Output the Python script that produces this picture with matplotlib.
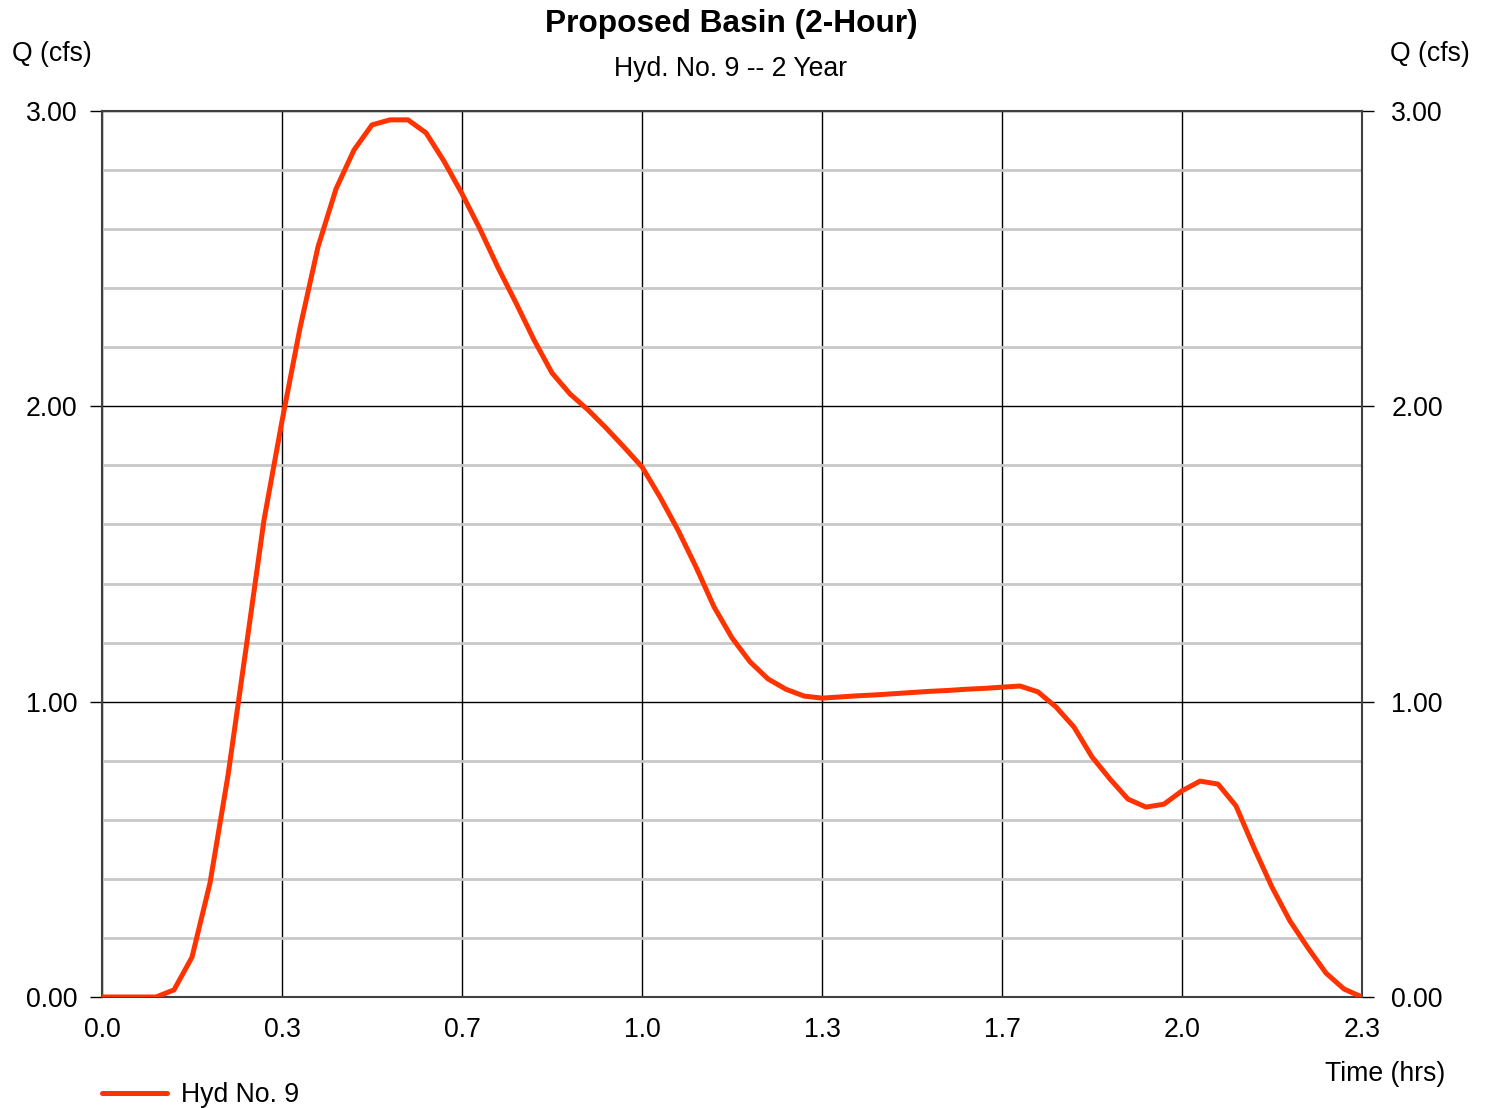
import numpy as np
import matplotlib
matplotlib.use("Agg")
import matplotlib.pyplot as plt
from matplotlib.ticker import MultipleLocator, FixedLocator
from matplotlib.transforms import ScaledTranslation

plt.rcParams['font.family'] = ['Liberation Sans', 'DejaVu Sans']

# hydrograph ordinates, 2-minute time step
minutes = np.arange(0, 142, 2)
flow_cfs = [
    0.000, 0.000, 0.000, 0.000, 0.024, 0.135, 0.386, 0.750, 1.180, 1.615,
    1.950, 2.265, 2.540, 2.736, 2.868, 2.953, 2.970, 2.970, 2.926, 2.830,
    2.720, 2.600, 2.470, 2.350, 2.225, 2.113, 2.042, 1.988, 1.927, 1.862,
    1.795, 1.693, 1.581, 1.456, 1.321, 1.216, 1.135, 1.077, 1.042, 1.019,
    1.012, 1.016, 1.020, 1.023, 1.027, 1.031, 1.035, 1.038, 1.042, 1.045,
    1.049, 1.053, 1.033, 0.982, 0.914, 0.813, 0.738, 0.670, 0.643, 0.653,
    0.698, 0.731, 0.721, 0.647, 0.505, 0.372, 0.257, 0.166, 0.081, 0.027,
    0.000,
]
hours = minutes / 60.0

xtick_pos = [0, 1/3, 2/3, 1, 4/3, 5/3, 2, 7/3]
xtick_lbl = ["0.0", "0.3", "0.7", "1.0", "1.3", "1.7", "2.0", "2.3"]
ytick_pos = [0, 1, 2, 3]
ytick_lbl = ["0.00", "1.00", "2.00", "3.00"]

FS = 19.2
W, H = 1488, 1108
fig = plt.figure(figsize=(W / 100, H / 100), dpi=100)
ax = fig.add_axes([102 / W, 1 - 997 / H, 1260 / W, 886 / H])

ax.plot(hours, flow_cfs, color='#ff3300', lw=3.6, solid_capstyle='round',
        label='Hyd No. 9', zorder=5)

ax.set_xlim(0, 7/3)
ax.set_ylim(0, 3)

ax.xaxis.set_major_locator(FixedLocator(xtick_pos))
ax.set_xticklabels(xtick_lbl)
ax.yaxis.set_major_locator(FixedLocator(ytick_pos))
ax.set_yticklabels(ytick_lbl)
ax.yaxis.set_minor_locator(MultipleLocator(0.2))

ax.grid(which='major', color='black', lw=1.0, zorder=2)
ax.grid(which='minor', axis='y', color='#c8c8c8', lw=2.0, zorder=1)

ax.tick_params(axis='x', length=0, pad=14.5, labelsize=FS)
ax.tick_params(axis='y', which='major', length=8.6, width=1.0, color='black',
               labelsize=FS, left=True, right=True, labelleft=True,
               labelright=True, pad=9)
ax.tick_params(axis='y', which='minor', length=0)

for s in ax.spines.values():
    s.set_color('#404040')
    s.set_linewidth(1.5)

# right-hand value labels sit a little further out than the left ones
for tk in ax.yaxis.get_major_ticks():
    tk.label2.set_transform(tk.label2.get_transform()
                            + ScaledTranslation(3.5 / 72, 0, fig.dpi_scale_trans))

fig.text(731 / W, 1 - 24 / H, 'Proposed Basin (2-Hour)', ha='center',
         va='center', fontsize=22.8, fontweight='bold')
fig.text(731 / W, 1 - 69 / H, 'Hyd. No. 9 -- 2 Year', ha='center',
         va='center', fontsize=FS)
fig.text(12 / W, 1 - 54 / H, 'Q (cfs)', ha='left', va='center', fontsize=FS)
fig.text(1470 / W, 1 - 54 / H, 'Q (cfs)', ha='right', va='center', fontsize=FS)
fig.text(1445 / W, 1 - 1074 / H, 'Time (hrs)', ha='right', va='center',
         fontsize=FS)

ax.legend(loc='center left', bbox_to_anchor=(102 / W, 1 - 1095 / H),
          bbox_transform=fig.transFigure, frameon=False, fontsize=FS,
          borderpad=0, borderaxespad=0, handlelength=2.45, handletextpad=0.52)

fig.savefig('out.png', dpi=100)
